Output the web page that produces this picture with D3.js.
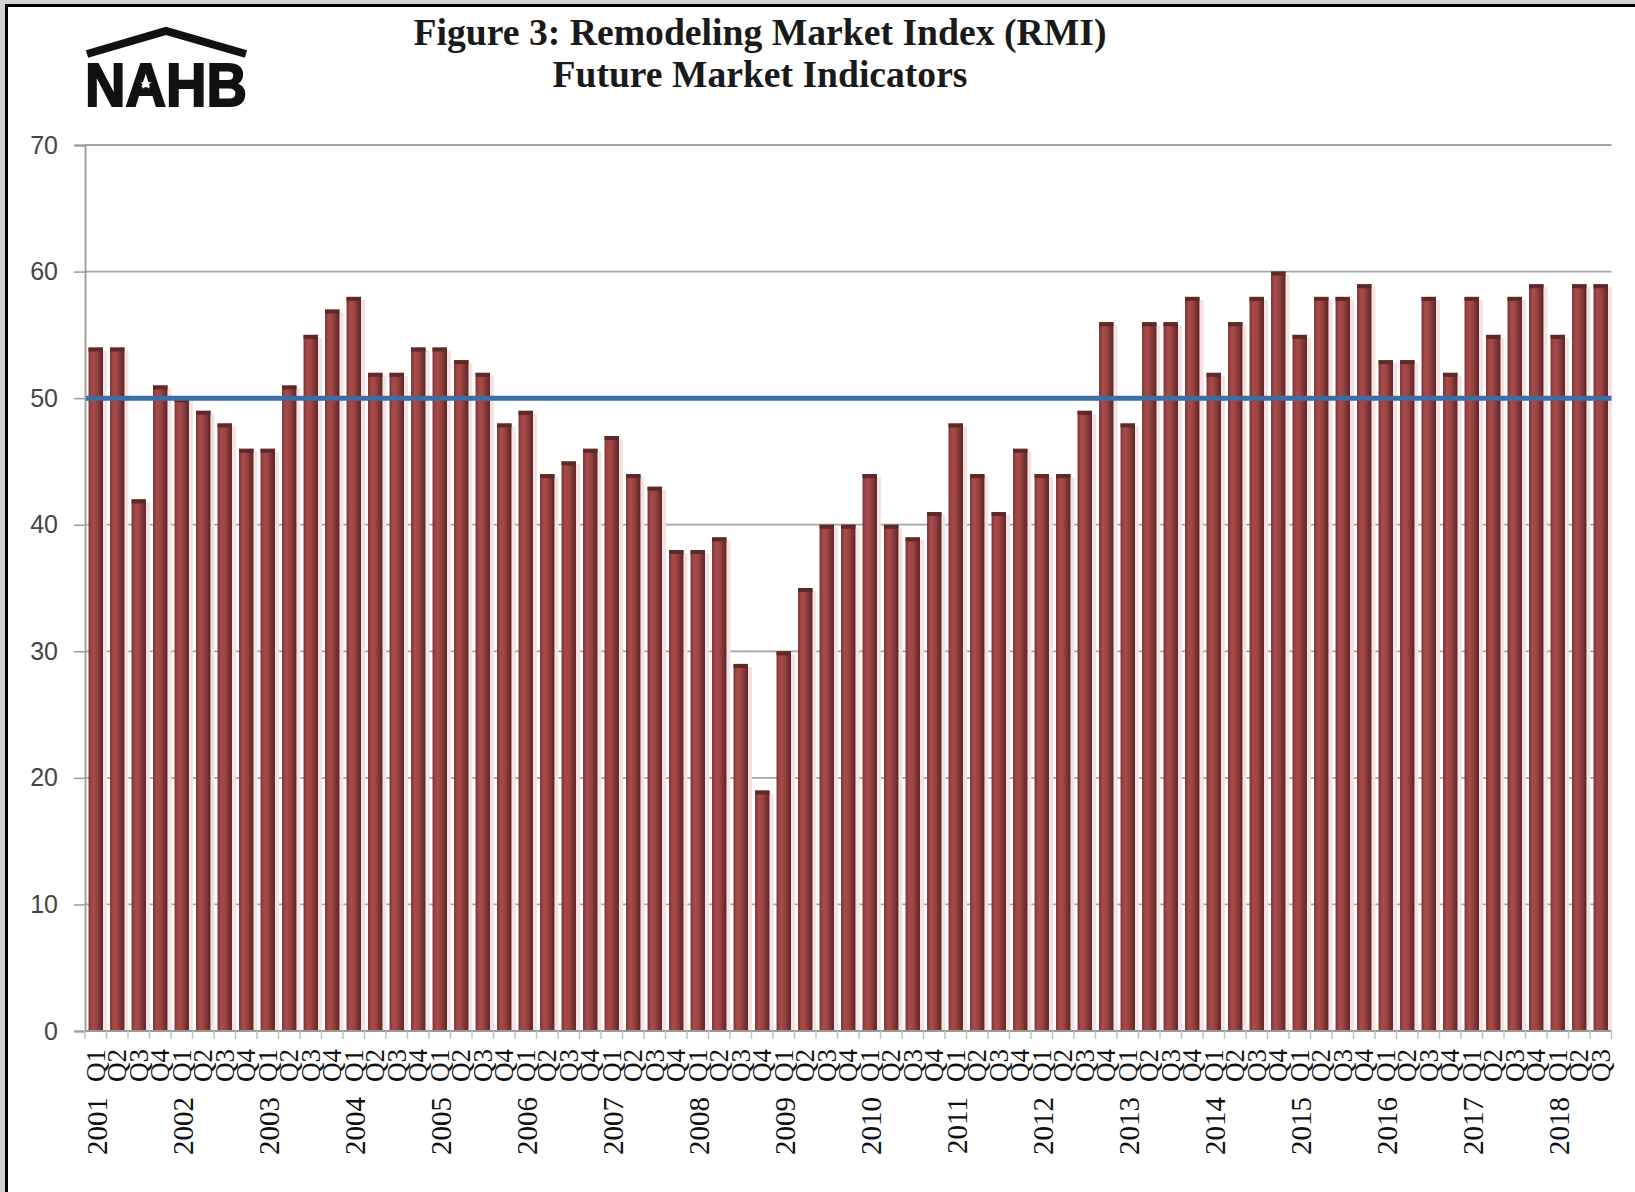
<!DOCTYPE html>
<html>
<head>
<meta charset="utf-8">
<script src="https://cdn.jsdelivr.net/npm/d3@7"></script>
<style>
  html, body { margin: 0; padding: 0; background: #d2d2d2; }
  svg { display: block; }
</style>
</head>
<body>
<svg id="chart" width="1635" height="1192"></svg>
<script>
// ---- Data ----
const years = ["2001","2002","2003","2004","2005","2006","2007","2008","2009",
               "2010","2011","2012","2013","2014","2015","2016","2017","2018"];
const quarters = ["Q1","Q2","Q3","Q4"];
const values = [
  54, 54, 42, 51,   // 2001
  50, 49, 48, 46,   // 2002
  46, 51, 55, 57,   // 2003
  58, 52, 52, 54,   // 2004
  54, 53, 52, 48,   // 2005
  49, 44, 45, 46,   // 2006
  47, 44, 43, 38,   // 2007
  38, 39, 29, 19,   // 2008
  30, 35, 40, 40,   // 2009
  44, 40, 39, 41,   // 2010
  48, 44, 41, 46,   // 2011
  44, 44, 49, 56,   // 2012
  48, 56, 56, 58,   // 2013
  52, 56, 58, 60,   // 2014
  55, 58, 58, 59,   // 2015
  53, 53, 58, 52,   // 2016
  58, 55, 58, 59,   // 2017
  55, 59, 59        // 2018
];
const referenceLevel = 50;
const yTicks = [0, 10, 20, 30, 40, 50, 60, 70];
const titleLines = ["Figure 3: Remodeling Market Index (RMI)", "Future Market Indicators"];

// categories derived from years x quarters, trimmed to available values
const categories = [];
years.forEach(y => quarters.forEach(q => categories.push({year: y, q: q})));
const data = values.map((v, i) => ({ id: i, year: categories[i].year, q: categories[i].q, value: v }));

// ---- Layout ----
const svg = d3.select("#chart");
const W = 1635, H = 1192;
const plot = { left: 85, right: 1611.5, top: 145, bottom: 1031 };

// white page area with black top/left frame
svg.append("rect").attr("x", 6).attr("y", 5).attr("width", W - 6).attr("height", H - 5).attr("fill", "#ffffff");
svg.append("line").attr("x1", 6.5).attr("x2", 6.5).attr("y1", 4).attr("y2", H).attr("stroke", "#000").attr("stroke-width", 3);
svg.append("line").attr("x1", 5).attr("x2", W).attr("y1", 5.5).attr("y2", 5.5).attr("stroke", "#000").attr("stroke-width", 3);

const x = d3.scaleBand()
  .domain(data.map(d => d.id))
  .range([plot.left, plot.right])
  .paddingInner(0.33)
  .paddingOuter(0.165);

const step = (plot.right - plot.left) / data.length;

const y = d3.scaleLinear().domain([0, 70]).range([plot.bottom, plot.top]);

// defs: bar gradient
const defs = svg.append("defs");
const grad = defs.append("linearGradient").attr("id", "barGrad").attr("x1", "0%").attr("x2", "100%").attr("y1", "0%").attr("y2", "0%");
grad.append("stop").attr("offset", "0%").attr("stop-color", "#7a3333");
grad.append("stop").attr("offset", "25%").attr("stop-color", "#a84a4a");
grad.append("stop").attr("offset", "50%").attr("stop-color", "#a04545");
grad.append("stop").attr("offset", "80%").attr("stop-color", "#783232");
grad.append("stop").attr("offset", "100%").attr("stop-color", "#5a2323");

// gridlines
svg.append("g")
  .selectAll("line")
  .data(yTicks.filter(t => t > 0))
  .join("line")
  .attr("x1", plot.left).attr("x2", plot.right)
  .attr("y1", d => y(d)).attr("y2", d => y(d))
  .attr("stroke", "#a6a6a6").attr("stroke-width", 1.8);

// y axis line and ticks
const yAxis = d3.axisLeft(y).tickValues(yTicks).tickSize(11).tickPadding(16).tickFormat(d3.format("d"));
const gy = svg.append("g").attr("transform", `translate(${plot.left},0)`).call(yAxis);
gy.select(".domain").attr("stroke", "#9a9a9a").attr("stroke-width", 1.8);
gy.selectAll(".tick line").attr("stroke", "#9a9a9a").attr("stroke-width", 1.5);
gy.selectAll(".tick text")
  .attr("font-family", "'Liberation Sans', Arial, sans-serif")
  .attr("font-size", 25)
  .attr("fill", "#454545");

// bar shadows (light pink glow to the right)
svg.append("g")
  .selectAll("rect")
  .data(data)
  .join("rect")
  .attr("x", d => x(d.id) + x.bandwidth())
  .attr("y", d => y(d.value) + 3)
  .attr("width", 4)
  .attr("height", d => y(0) - y(d.value) - 3)
  .attr("fill", "#f4e2e2");

// bars
svg.append("g")
  .selectAll("rect")
  .data(data)
  .join("rect")
  .attr("x", d => x(d.id))
  .attr("y", d => y(d.value))
  .attr("width", x.bandwidth())
  .attr("height", d => y(0) - y(d.value))
  .attr("fill", "url(#barGrad)");

// bar top caps
svg.append("g")
  .selectAll("rect")
  .data(data)
  .join("rect")
  .attr("x", d => x(d.id))
  .attr("y", d => y(d.value))
  .attr("width", x.bandwidth())
  .attr("height", 4)
  .attr("fill", "#5e2929");

// x axis line
svg.append("line")
  .attr("x1", plot.left).attr("x2", plot.right)
  .attr("y1", y(0)).attr("y2", y(0))
  .attr("stroke", "#9a9a9a").attr("stroke-width", 1.8);

// x category tick marks (category boundaries)
const boundaries = data.map(d => d.id).concat([data.length]);
svg.append("g")
  .selectAll("line")
  .data(boundaries)
  .join("line")
  .attr("x1", d => plot.left + d * step).attr("x2", d => plot.left + d * step)
  .attr("y1", y(0)).attr("y2", y(0) + 8)
  .attr("stroke", "#b8c8c0").attr("stroke-width", 1.5);

// reference line at 50
svg.append("line")
  .attr("x1", plot.left + 1).attr("x2", plot.right)
  .attr("y1", y(referenceLevel)).attr("y2", y(referenceLevel))
  .attr("stroke", "#3c6ea6").attr("stroke-width", 5);

// quarter labels
svg.append("g")
  .selectAll("text")
  .data(data)
  .join("text")
  .attr("transform", d => `translate(${x(d.id) + x.bandwidth() / 2},${y(0) + 18}) rotate(-90)`)
  .attr("text-anchor", "end")
  .attr("dy", "0.33em")
  .attr("font-family", "'Liberation Serif', 'Times New Roman', serif")
  .attr("font-size", 27)
  .attr("fill", "#111")
  .text(d => d.q);

// year labels under each Q1
svg.append("g")
  .selectAll("text")
  .data(data.filter(d => d.q === "Q1"))
  .join("text")
  .attr("transform", d => `translate(${x(d.id) + x.bandwidth() / 2 + 2},${y(0) + 66}) rotate(-90)`)
  .attr("text-anchor", "end")
  .attr("dy", "0.33em")
  .attr("font-family", "'Liberation Serif', 'Times New Roman', serif")
  .attr("font-size", 29)
  .attr("fill", "#111")
  .text(d => d.year);

// title
const titleWidths = [693, 415];
svg.append("g")
  .selectAll("text")
  .data(titleLines)
  .join("text")
  .attr("x", 760)
  .attr("y", (d, i) => 45 + i * 42)
  .attr("text-anchor", "middle")
  .attr("font-family", "'Liberation Serif', 'Times New Roman', serif")
  .attr("font-weight", "bold")
  .attr("font-size", 38)
  .attr("textLength", (d, i) => titleWidths[i])
  .attr("lengthAdjust", "spacingAndGlyphs")
  .attr("fill", "#1a1a1a")
  .text(d => d);

// NAHB logo
const logo = svg.append("g");
logo.append("path")
  .attr("d", d3.line()([[87, 54], [166, 31], [246, 54]]))
  .attr("fill", "none")
  .attr("stroke", "#111")
  .attr("stroke-width", 8)
  .attr("stroke-linejoin", "miter");
logo.append("text")
  .attr("x", 85).attr("y", 106)
  .attr("font-family", "'Liberation Sans', Arial, sans-serif")
  .attr("font-weight", "bold")
  .attr("font-size", 62)
  .attr("textLength", 162)
  .attr("lengthAdjust", "spacingAndGlyphs")
  .attr("fill", "#111")
  .attr("stroke", "#111")
  .attr("stroke-width", 2)
  .text("NAHB");
logo.append("path")
  .attr("transform", "translate(146,84)")
  .attr("d", d3.symbol(d3.symbolStar, 40)())
  .attr("fill", "#fff");
</script>
</body>
</html>
